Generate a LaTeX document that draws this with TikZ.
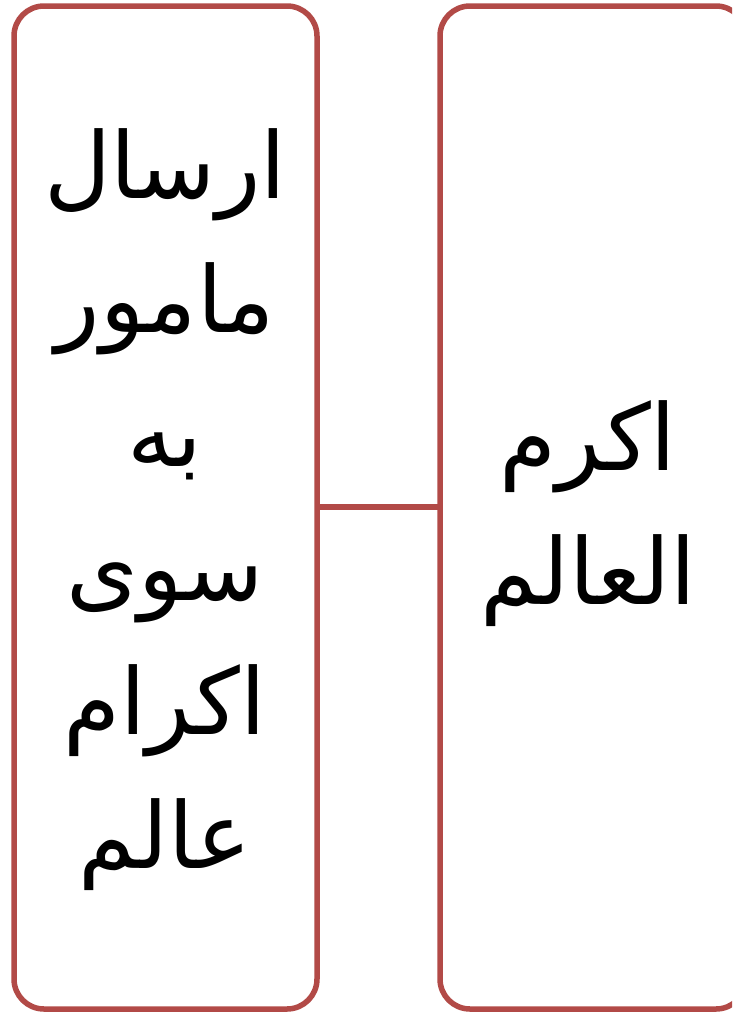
\documentclass[tikz,border=0pt]{standalone}
\usepackage{fontspec}
\newfontfamily\arabicfont[Script=Arabic]{DejaVu Sans}
\TeXXeTstate=1
\definecolor{boxred}{RGB}{178,74,71}
\tikzset{
  tallbox/.style={draw=boxred, line width=5.5pt, rounded corners=30pt, fill=white},
  link/.style={draw=boxred, line width=5.5pt},
  arlabel/.style={align=center, font=\arabicfont\fontsize{92}{134}\selectfont, text=black}
}
\begin{document}
\begin{tikzpicture}[x=1pt,y=-1pt]
\useasboundingbox (0,0) rectangle (732,1013);
\clip (0,0) rectangle (732,1013);
\fill[white] (0,0) rectangle (732,1013);
\draw[tallbox] (14,6) rectangle (317,1009);
\draw[tallbox] (440,6) rectangle (746,1009);
\coordinate (L) at (317,507);
\coordinate (R) at (440,507);
\node[arlabel] (lt) at (165,510) {\beginR ارسال\endR\\ \beginR مامور\endR\\ \beginR به\endR\\ \beginR سوی\endR\\ \beginR اکرام\endR\\ \beginR عالم\endR};
\node[arlabel] (rt) at (588,514) {\beginR اکرم\endR\\ \beginR العالم\endR};
\draw[link] (L) -- (R);
\end{tikzpicture}
\end{document}
